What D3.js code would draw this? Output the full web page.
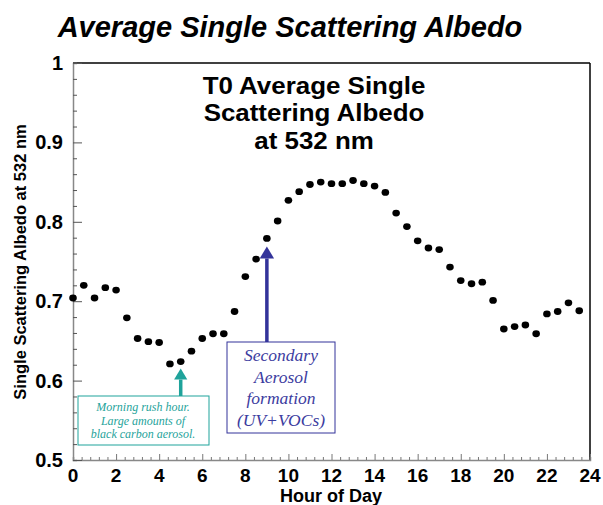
<!DOCTYPE html>
<html>
<head>
<meta charset="utf-8">
<script src="https://cdn.jsdelivr.net/npm/d3@7"></script>
<style>
  body { margin: 0; background: #fff; }
  svg { display: block; }
  text { font-family: "Liberation Sans", Arial, Helvetica, sans-serif; }
</style>
</head>
<body>
<svg id="chart" width="603" height="505"></svg>
<script>
// values
const hours = [0, 0.5, 1, 1.5, 2, 2.5, 3, 3.5, 4, 4.5, 5, 5.5, 6, 6.5, 7, 7.5,
  8, 8.5, 9, 9.5, 10, 10.5, 11, 11.5, 12, 12.5, 13, 13.5, 14, 14.5, 15, 15.5,
  16, 16.5, 17, 17.5, 18, 18.5, 19, 19.5, 20, 20.5, 21, 21.5, 22, 22.5, 23, 23.5];
const albedo = [0.704, 0.720, 0.704, 0.717, 0.714, 0.679, 0.653, 0.649, 0.648, 0.621, 0.624, 0.637, 0.653, 0.659, 0.659, 0.687,
  0.731, 0.753, 0.779, 0.801, 0.827, 0.838, 0.847, 0.850, 0.848, 0.848, 0.852, 0.848, 0.845, 0.837, 0.811, 0.794,
  0.776, 0.767, 0.765, 0.743, 0.726, 0.722, 0.724, 0.701, 0.665, 0.668, 0.670, 0.659, 0.684, 0.687, 0.698, 0.688];
const xTicks = [0, 2, 4, 6, 8, 10, 12, 14, 16, 18, 20, 22, 24];
const yTicks = [0.5, 0.6, 0.7, 0.8, 0.9, 1];
const titleText = 'Average Single Scattering Albedo';
const innerTitle = ['T0 Average Single', 'Scattering Albedo', 'at 532 nm'];
const yLabel = 'Single Scattering Albedo at 532 nm';
const xLabel = 'Hour of Day';
const rushNote = { hour: 5, value: 0.624, lines: ['Morning rush hour.', 'Large amounts of', 'black carbon aerosol.'] };
const soaNote = { hour: 9, value: 0.779, lines: ['Secondary', 'Aerosol', 'formation', '(UV+VOCs)'] };

const svg = d3.select('#chart');
const margin = { top: 63, right: 13, bottom: 44, left: 73 };
const width = 603 - margin.left - margin.right;
const height = 505 - margin.top - margin.bottom - 1;

const x = d3.scaleLinear().domain([0, 24]).range([0, width]);
const y = d3.scaleLinear().domain([0.5, 1]).range([height, 0]);

const g = svg.append('g').attr('transform', `translate(${margin.left},${margin.top})`);

// frame: top and right black, left and bottom gray axes
g.append('line').attr('x1', 0).attr('x2', width).attr('y1', 0).attr('y2', 0).attr('stroke', '#000').attr('stroke-width', 1.5);
g.append('line').attr('x1', width).attr('x2', width).attr('y1', 0).attr('y2', height).attr('stroke', '#000').attr('stroke-width', 1.5);

const xAxis = g.append('g').attr('transform', `translate(0,${height})`)
  .call(d3.axisBottom(x).tickValues(d3.range(0, 24.01, 0.4)).tickSize(-3).tickFormat(''));
xAxis.selectAll('line').attr('stroke', '#777');
xAxis.selectAll('.tick').filter(d => xTicks.includes(Math.round(d * 10) / 10) && Math.abs(d - Math.round(d)) < 0.01)
  .select('line').attr('y2', -6);
xAxis.select('.domain').attr('stroke', '#888').attr('stroke-width', 1.5);

const yAxis = g.append('g')
  .call(d3.axisLeft(y).tickValues(d3.range(0.5, 1.001, 0.02)).tickSize(-4).tickFormat(''));
yAxis.selectAll('line').attr('stroke', '#555');
yAxis.selectAll('.tick').filter(d => yTicks.some(t => Math.abs(t - d) < 0.001))
  .select('line').attr('x2', 9);
yAxis.select('.domain').attr('stroke', '#888').attr('stroke-width', 1.5);

// tick labels
g.selectAll('.xlab').data(xTicks).enter().append('text')
  .attr('x', d => x(d)).attr('y', height + 22)
  .attr('text-anchor', 'middle').attr('font-size', 19).attr('font-weight', 'bold')
  .text(d => d);
g.selectAll('.ylab').data(yTicks).enter().append('text')
  .attr('x', -10).attr('y', d => y(d) + 7)
  .attr('text-anchor', 'end').attr('font-size', 20).attr('font-weight', 'bold')
  .text(d => d);

// axis titles
svg.append('text').attr('x', 331).attr('y', 502)
  .attr('text-anchor', 'middle').attr('font-size', 18).attr('font-weight', 'bold').text(xLabel);
svg.append('text').attr('transform', 'translate(26,262) rotate(-90)')
  .attr('text-anchor', 'middle').attr('font-size', 16.5).attr('font-weight', 'bold').text(yLabel);

// page title
svg.append('text').attr('x', 290).attr('y', 37)
  .attr('text-anchor', 'middle').attr('font-size', 29).attr('font-weight', 'bold')
  .attr('font-style', 'italic').text(titleText);

// inner title, a bit stretched sideways like the reference face
const it = g.append('g').attr('transform', 'translate(241,0) scale(1.08,1)');
it.selectAll('.ititle').data(innerTitle).enter().append('text')
  .attr('x', 0).attr('y', (d, i) => 31 + i * 27.5)
  .attr('text-anchor', 'middle').attr('font-size', 24).attr('font-weight', 'bold')
  .text(d => d);

// data points
g.selectAll('.dot').data(hours).enter().append('ellipse')
  .attr('cx', d => x(d)).attr('cy', (d, i) => y(albedo[i]))
  .attr('rx', 3.8).attr('ry', 3.4).attr('fill', '#000');

// annotations
const teal = '#1fa39b';
const navy = '#33339a';
function arrow(hx, tipY, baseY, color, w, head) {
  g.append('line').attr('x1', hx).attr('x2', hx).attr('y1', baseY).attr('y2', tipY + head)
    .attr('stroke', color).attr('stroke-width', w);
  g.append('path')
    .attr('d', `M${hx},${tipY} L${hx - head * 0.6},${tipY + head} L${hx + head * 0.6},${tipY + head} Z`)
    .attr('fill', color);
}

// rush hour note
const rx = x(rushNote.hour);
arrow(rx, y(rushNote.value) + 7, 333, teal, 3.5, 11);
g.append('rect').attr('x', 5).attr('y', 333).attr('width', 131).attr('height', 49)
  .attr('fill', '#fff').attr('stroke', teal).attr('stroke-width', 1);
g.selectAll('.rnote').data(rushNote.lines).enter().append('text')
  .attr('x', 70).attr('y', (d, i) => 348 + i * 13.5)
  .attr('text-anchor', 'middle').attr('font-size', 12).attr('font-style', 'italic')
  .style('font-family', '"Liberation Serif", "Times New Roman", serif')
  .attr('fill', teal).text(d => d);

// secondary aerosol note
const sx = x(soaNote.hour);
arrow(sx, y(soaNote.value) + 8, 279, navy, 3.5, 12);
g.append('rect').attr('x', 154).attr('y', 279).attr('width', 108).attr('height', 91)
  .attr('fill', '#fff').attr('stroke', navy).attr('stroke-width', 1);
g.selectAll('.snote').data(soaNote.lines).enter().append('text')
  .attr('x', 208).attr('y', (d, i) => 298 + i * 21.5)
  .attr('text-anchor', 'middle').attr('font-size', 17.5).attr('font-style', 'italic')
  .style('font-family', '"Liberation Serif", "Times New Roman", serif')
  .attr('fill', '#3c3ca0').text(d => d);
</script>
</body>
</html>
